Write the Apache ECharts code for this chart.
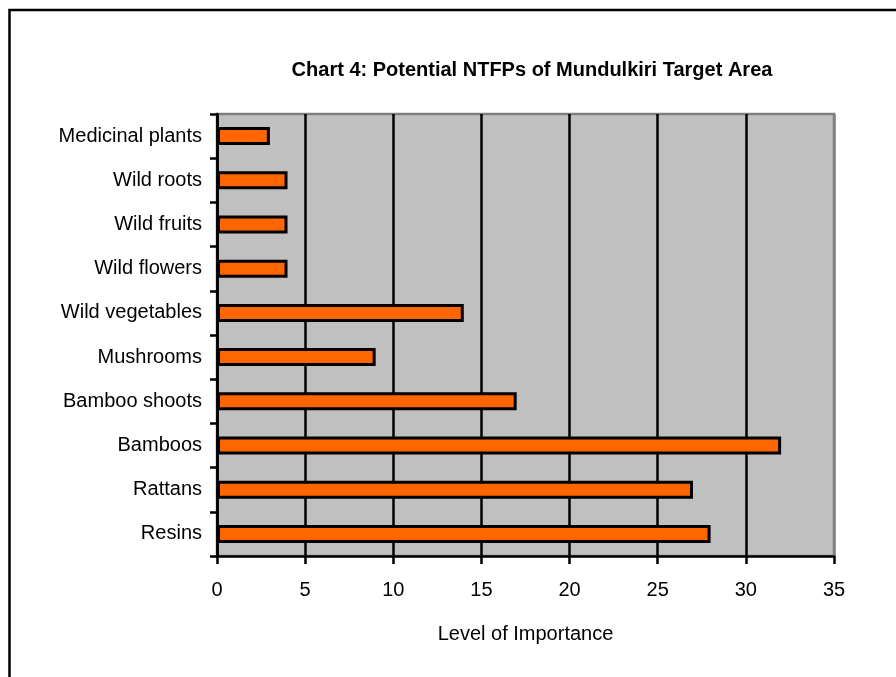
<!DOCTYPE html>
<html>
<head>
<meta charset="utf-8">
<script src="https://cdn.jsdelivr.net/npm/echarts@6/dist/echarts.min.js"></script>
<style>
html,body{margin:0;padding:0;background:#fff;}
#chart{width:896px;height:677px;}
</style>
</head>
<body>
<div id="chart"></div>
<script>
const categories = ["Medicinal plants","Wild roots","Wild fruits","Wild flowers","Wild vegetables","Mushrooms","Bamboo shoots","Bamboos","Rattans","Resins"];
const importance = [3,4,4,4,14,9,17,32,27,28];
const xTicks = {min:0, max:35, interval:5};
const titleText = "Chart 4: Potential NTFPs of Mundulkiri Target Area";
const xName = "Level of Importance";

const FONT = "Liberation Sans, Arial, sans-serif";
const chart = echarts.init(document.getElementById('chart'));
chart.setOption({
  animation:false,
  backgroundColor:'#ffffff',
  graphic:[
    {type:'rect', shape:{x:9.5,y:10,width:1000,height:1000}, style:{fill:'none',stroke:'#000',lineWidth:2.5}, z:0},
    {type:'text', x:532, y:60, style:{text:titleText, fill:'#000', font:'bold 20px '+FONT, textAlign:'center', textVerticalAlign:'top'}}
  ],
  grid:{left:217,right:62,top:114,bottom:121,show:true,backgroundColor:'#C0C0C0',borderColor:'#808080',borderWidth:2.5},
  xAxis:{
    type:'value', min:xTicks.min, max:xTicks.max, interval:xTicks.interval,
    position:'bottom',
    name:xName, nameLocation:'middle', nameGap:68,
    nameTextStyle:{color:'#000',fontSize:20,fontFamily:FONT},
    axisLine:{show:true,onZero:false,lineStyle:{color:'#000',width:2.5}},
    axisTick:{show:true,length:8,lineStyle:{color:'#000',width:2.5}},
    axisLabel:{color:'#000',fontSize:20,fontFamily:FONT,margin:24},
    splitLine:{show:true,lineStyle:{color:['#000','#000','#000','#000','#000','#000','#000','#808080'],width:2.5}}
  },
  yAxis:{
    type:'category', data:categories, inverse:true,
    axisLine:{show:true,lineStyle:{color:'#000',width:2.5}},
    axisTick:{show:true,length:7,lineStyle:{color:'#000',width:2.5}},
    axisLabel:{color:'#000',fontSize:20,fontFamily:FONT,margin:15},
    splitLine:{show:false}
  },
  series:[{
    type:'bar', data:importance, barWidth:18,
    itemStyle:{color:'#FF6600',borderColor:'#000',borderWidth:3}
  }]
});
</script>
</body>
</html>
